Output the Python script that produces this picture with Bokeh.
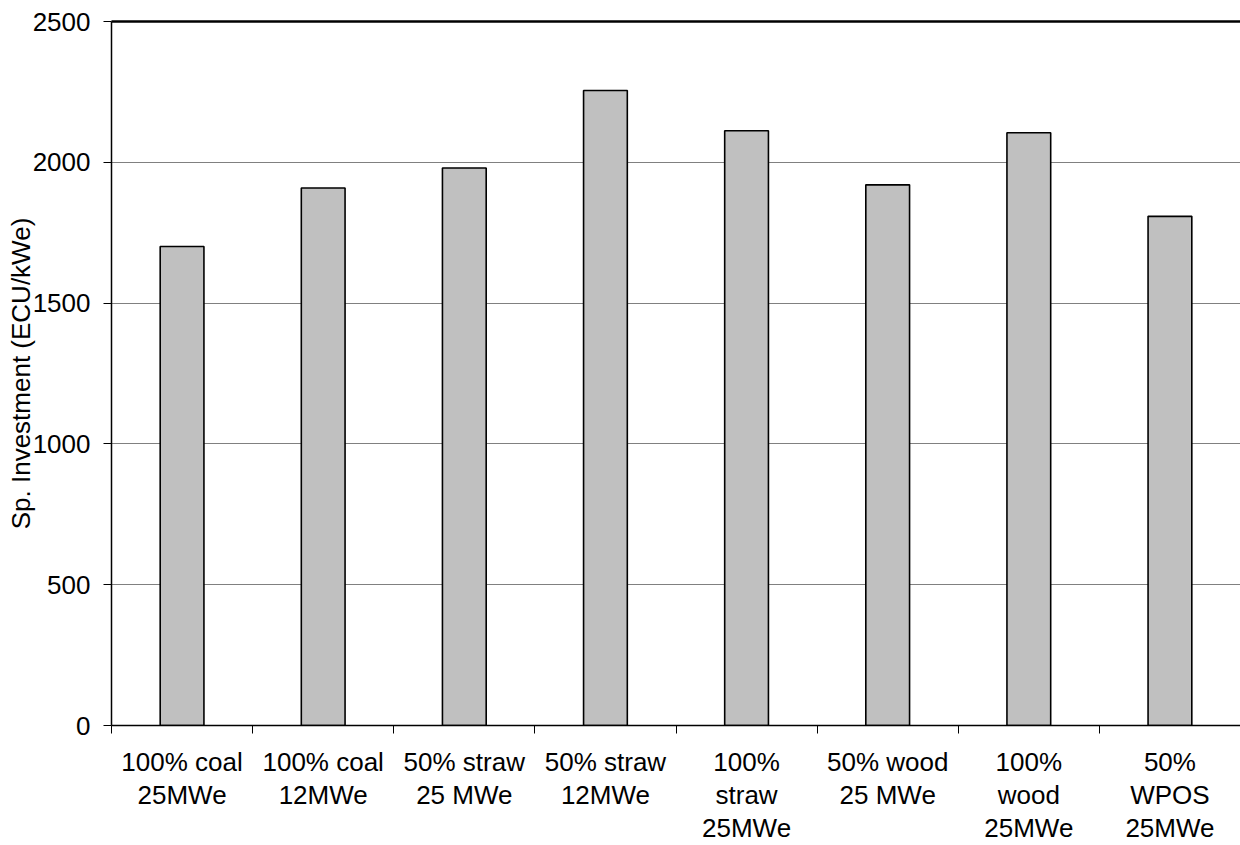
from bokeh.plotting import figure
from bokeh.models import ColumnDataSource, FixedTicker, LinearAxis, Range1d
from bokeh.embed import file_html
from bokeh.resources import INLINE

# Specific investment per plant configuration
categories = [
    "100% coal\n25MWe",
    "100% coal\n12MWe",
    "50% straw\n25 MWe",
    "50% straw\n12MWe",
    "100%\nstraw\n25MWe",
    "50% wood\n25 MWe",
    "100%\nwood\n25MWe",
    "50%\nWPOS\n25MWe",
]
investment = [1701, 1909, 1980, 2255, 2112, 1920, 2105, 1808]
y_ticks = [0, 500, 1000, 1500, 2000, 2500]

FONT = "Liberation Sans"

centers = [i + 0.5 for i in range(len(categories))]
boundaries = list(range(len(categories) + 1))
source = ColumnDataSource(dict(x=centers, top=investment, label=categories))

p = figure(
    width=1240, height=845,
    x_range=Range1d(0, len(categories)),
    y_range=Range1d(0, 2500),
    output_backend="svg", toolbar_location=None,
    min_border_left=111, min_border_right=0,
    min_border_top=21, min_border_bottom=119,
)
p.outline_line_color = None
p.background_fill_color = "white"
p.border_fill_color = "white"

p.vbar(x="x", top="top", width=0.31, source=source,
       fill_color="#C0C0C0", line_color="black", line_width=1.6)

# y axis
p.yaxis.ticker = FixedTicker(ticks=y_ticks)
p.yaxis.axis_label = "Sp. Investment (ECU/kWe)"
p.yaxis.axis_label_text_font = FONT
p.yaxis.axis_label_text_font_size = "26px"
p.yaxis.axis_label_text_font_style = "normal"
p.yaxis.axis_label_text_color = "black"
p.yaxis.axis_label_standoff = -6
p.yaxis.major_label_text_font = FONT
p.yaxis.major_label_text_font_size = "26px"
p.yaxis.major_label_text_color = "black"
p.yaxis.major_label_standoff = 13
p.yaxis.major_tick_in = 0
p.yaxis.major_tick_out = 8
p.yaxis.minor_tick_line_color = None
p.yaxis.axis_line_color = "black"
p.yaxis.axis_line_width = 1.5
p.yaxis.major_tick_line_color = "black"

# x axis: labels at bar centres, ticks at category boundaries
p.xaxis.ticker = FixedTicker(ticks=centers, minor_ticks=boundaries)
p.xaxis.major_label_overrides = {c: lab for c, lab in zip(centers, categories)}
p.xaxis.major_label_text_font = FONT
p.xaxis.major_label_text_font_size = "26px"
p.xaxis.major_label_text_line_height = 1.1
p.xaxis.major_label_text_color = "black"
p.xaxis.major_label_standoff = 13
p.xaxis.major_label_text_align = "center"
p.xaxis.major_tick_line_color = None
p.xaxis.major_tick_in = 0
p.xaxis.major_tick_out = 0
p.xaxis.minor_tick_line_color = "black"
p.xaxis.minor_tick_in = 0
p.xaxis.minor_tick_out = 8
p.xaxis.axis_line_color = "black"
p.xaxis.axis_line_width = 1.5

# top frame line
top_axis = LinearAxis(major_tick_out=0, major_tick_in=0, minor_tick_out=0,
                      major_label_text_font_size="0px", major_label_standoff=0,
                      axis_line_color="black", axis_line_width=2.5,
                      major_tick_line_color=None, minor_tick_line_color=None)
top_axis.ticker = FixedTicker(ticks=[])
p.add_layout(top_axis, "above")

p.xgrid.grid_line_color = None
p.ygrid.ticker = FixedTicker(ticks=y_ticks)
p.ygrid.grid_line_color = "#808080"
p.ygrid.grid_line_width = 1.2

open("out.html", "w").write(file_html(p, INLINE))
